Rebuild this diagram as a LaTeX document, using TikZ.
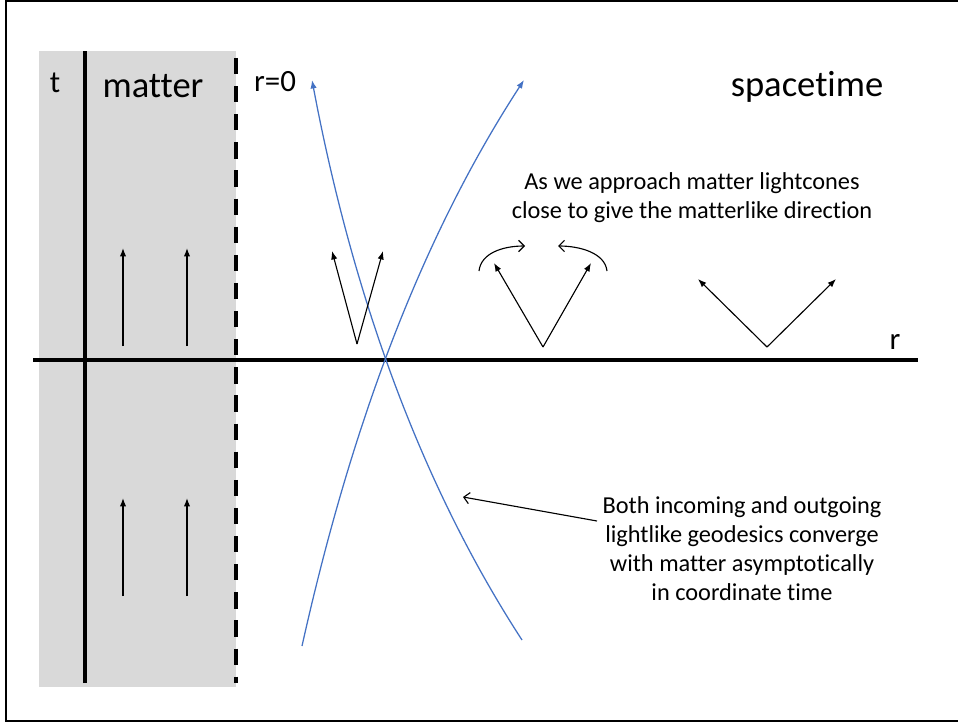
\documentclass[tikz,border=0pt]{standalone}
\usepackage{fontspec}
\setmainfont[Ligatures=NoCommon]{Carlito}
\usetikzlibrary{arrows.meta,positioning}
\definecolor{geoblue}{RGB}{68,114,196}
\definecolor{mattergray}{RGB}{217,217,217}
\tikzstyle{bigtext} = [inner sep=0pt, font=\fontsize{26}{31}\selectfont]
\tikzstyle{axtext} = [inner sep=0pt, font=\fontsize{22}{26}\selectfont]
\tikzstyle{note} = [inner sep=0pt, align=center, font=\fontsize{17.3}{20.5}\selectfont]
\tikzstyle{vec} = [->, line width=0.8pt]
\tikzstyle{geodesic} = [->, geoblue, line width=0.9pt]
\tikzstyle{pointer} = [-{Straight Barb[length=4pt,width=8pt]}, line width=0.8pt]

\begin{document}
\begin{tikzpicture}[x=0.025cm, y=-0.025cm, >={Latex[length=6pt,width=4.5pt]}]

\useasboundingbox (0,0) rectangle (958,722);

% frame and matter region
\draw [line width=1.7pt] (6,1.3) rectangle (964,720.7);
\fill [mattergray] (39,51) rectangle (236,687);

% axes
\coordinate (tBot) at (85,683);
\coordinate (tTop) at (85,51);
\coordinate (rLeft) at (33,360);
\coordinate (rRight) at (918,360);
\coordinate (edgeTop) at (236,58);
\coordinate (edgeBot) at (236,683);
\draw [line width=2.3pt] (tBot) -- (tTop);
\draw [line width=2.3pt] (rLeft) -- (rRight);
\draw [line width=2.3pt, dash pattern=on 11.5pt off 8.5pt] (edgeTop) -- (edgeBot);

\node [axtext, anchor=base] (tlabel) at (55,93) {t};
\node [bigtext, anchor=base] (matter) at (153,98) {matter};
\node [axtext, anchor=base] (rzero) at (275,92) {r=0};
\node [bigtext, anchor=base] (spacetime) at (807,97) {spacetime};
\node [axtext, anchor=base] (rlabel) at (895,349) {r};

% matter worldlines
\foreach \x in {123,187} {
  \coordinate (mA\x) at (\x,346);
  \coordinate (mB\x) at (\x,248);
  \coordinate (mC\x) at (\x,596);
  \coordinate (mD\x) at (\x,498);
  \draw [vec] (mA\x) -- (mB\x);
  \draw [vec] (mC\x) -- (mD\x);
}

% lightlike geodesics
\coordinate (inTop) at (312,80);
\coordinate (inBot) at (522,640);
\coordinate (outBot) at (302,646);
\coordinate (outTop) at (524,80);
\draw [geodesic] (inBot) .. controls (405,460) and (345,255) .. (inTop);
\draw [geodesic] (outBot) .. controls (343,462) and (408,258) .. (outTop);

% lightcones
\coordinate (v1) at (357,344);
\coordinate (v1l) at (332,251);
\coordinate (v1r) at (383,251);
\draw [vec] (v1) -- (v1l);
\draw [vec] (v1) -- (v1r);

\coordinate (v2) at (543,347);
\coordinate (v2l) at (494,263);
\coordinate (v2r) at (591,263);
\draw [vec] (v2) -- (v2l);
\draw [vec] (v2) -- (v2r);

\coordinate (v3) at (767,347);
\coordinate (v3l) at (698,279);
\coordinate (v3r) at (836,279);
\draw [vec] (v3) -- (v3l);
\draw [vec] (v3) -- (v3r);

% closing arrows
\coordinate (swL) at (479,271);
\coordinate (swLend) at (525,246);
\coordinate (swR) at (607,271);
\coordinate (swRend) at (558,246);
\draw [pointer] (swL) .. controls (481,253) and (503,246) .. (swLend);
\draw [pointer] (swR) .. controls (605,253) and (580,246) .. (swRend);

\node [note, anchor=base] (closeNote) at (692,218) {As we approach matter lightcones\\close to give the matterlike direction};

\node [note, anchor=base] (convNote) at (742,600) {Both incoming and outgoing\\lightlike geodesics converge\\with matter asymptotically\\in coordinate time};
\coordinate (noteTail) at (597,521);
\coordinate (noteHead) at (463,497);
\draw [pointer] (noteTail) -- (noteHead);

\end{tikzpicture}
\end{document}
